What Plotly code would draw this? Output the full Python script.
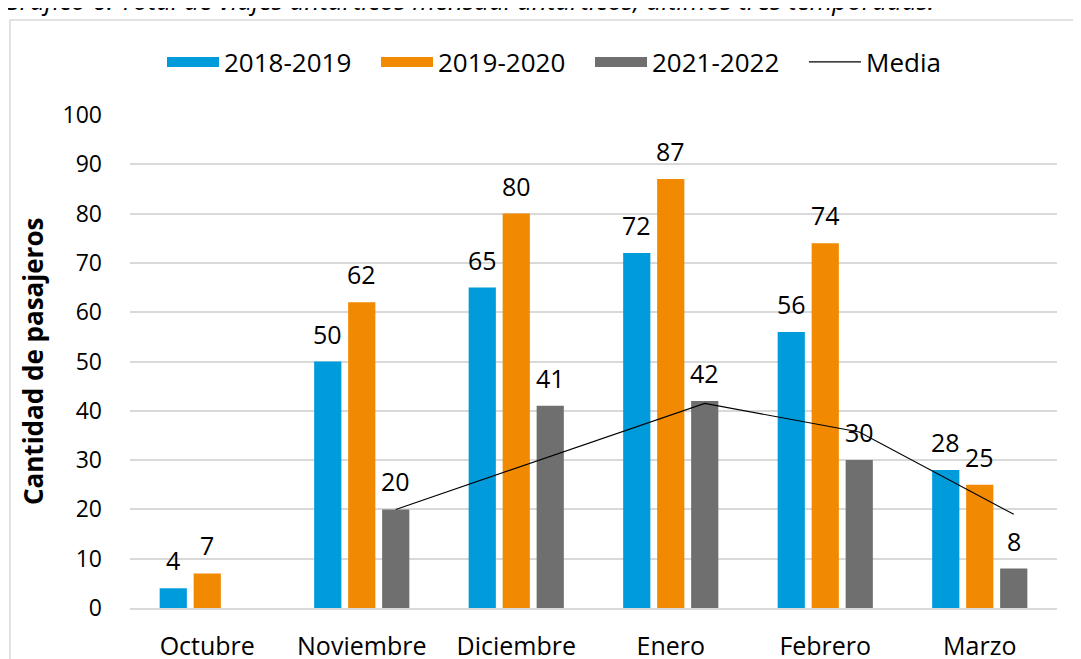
import plotly.graph_objects as go

meses = ["Octubre", "Noviembre", "Diciembre", "Enero", "Febrero", "Marzo"]
t_2018_2019 = [4, 50, 65, 72, 56, 28]
t_2019_2020 = [7, 62, 80, 87, 74, 25]
t_2021_2022 = [None, 20, 41, 42, 30, 8]
media = [None, 20, 30.8, 41.5, 35.7, 19]

series = [
    ("2018-2019", t_2018_2019, "#009bdb"),
    ("2019-2020", t_2019_2020, "#f18a00"),
    ("2021-2022", t_2021_2022, "#6f6f6f"),
]

FONT = "Open Sans"
bargap = 0.34
bargroupgap = 0.2

# page is drawn with an 8px body margin -> figure a bit smaller than window
OFF = 8
m_l, m_r, m_t, m_b = 122, 24, 107, 51
W, H = 1081 - OFF, 659 - OFF
plot_w = W - m_l - m_r
plot_h = H - m_t - m_b
x_left = OFF + m_l        # page px of plot left edge
y_bottom = OFF + m_t + plot_h  # page px of plot bottom edge
slot = (1 - bargap) / 3  # width of one bar slot, in category units
slot_px = slot * plot_w / len(meses)


def px(x):
    return (x - x_left) / plot_w


def py(y):
    return (y_bottom - y) / plot_h


fig = go.Figure()

for name, vals, color in series:
    fig.add_trace(go.Bar(
        x=meses, y=vals, name=name, showlegend=False,
        marker=dict(color=color, line=dict(width=0)),
    ))
    # legend swatch as a thick line (wide rectangle like the original)
    fig.add_trace(go.Scatter(
        x=[None], y=[None], name=name, mode="lines",
        line=dict(color=color, width=17),
    ))

# media line sits on the grey bars -> shifted overlay axis
fig.add_trace(go.Scatter(
    x=meses, y=media, name="Media", mode="lines",
    line=dict(color="#000000", width=1.1),
    xaxis="x2", connectgaps=False,
))

# data labels above the bars
annotations = []
for k, (name, vals, color) in enumerate(series):
    for mes, v in zip(meses, vals):
        if v is None:
            continue
        annotations.append(dict(
            x=mes, y=v, xref="x", yref="y", text=str(v), showarrow=False,
            xshift=(k - 1) * slot_px, yshift=28, yanchor="middle",
            font=dict(family=FONT, size=25, color="#000000"),
        ))

# axis title
annotations.append(dict(
    x=px(33), y=py(362), xref="paper", yref="paper",
    xanchor="center", yanchor="middle",
    text="<b>Cantidad de pasajeros</b>", textangle=-90, showarrow=False,
    font=dict(family=FONT, size=26, color="#000000"),
))

# chart caption (cut off at the top of the page)
annotations.append(dict(
    x=px(0), y=py(0), xref="paper", yref="paper",
    xanchor="left", yanchor="middle", showarrow=False,
    text="<i>Gráfico 6. Total de viajes antárticos mensual antárticos, últimos tres temporadas.</i>",
    font=dict(family=FONT, size=26, color="#000000"),
))

fig.update_layout(
    width=W, height=H,
    margin=dict(l=m_l, r=m_r, t=m_t, b=m_b, autoexpand=False),
    paper_bgcolor="white", plot_bgcolor="white",
    barmode="group", bargap=bargap, bargroupgap=bargroupgap,
    font=dict(family=FONT, size=21, color="#000000"),
    showlegend=True,
    legend=dict(
        orientation="h", x=px(162), xanchor="left",
        y=py(62), yanchor="middle",
        font=dict(family=FONT, size=26, color="#000000"),
        traceorder="normal", itemwidth=52, entrywidth=147,
    ),
    xaxis=dict(
        type="category", range=[-0.5, 5.5], showgrid=False, automargin=False,
        showline=True, linecolor="#d9d9d9", linewidth=2,
        ticks="", ticklabelstandoff=15,
        tickfont=dict(family=FONT, size=25, color="#000000"),
    ),
    xaxis2=dict(
        type="category", overlaying="x", range=[-0.5 - slot, 5.5 - slot],
        visible=False, categoryorder="array", categoryarray=meses,
    ),
    yaxis=dict(
        range=[0, 100], dtick=10, showgrid=True, gridcolor="#d9d9d9",
        gridwidth=1.5, zeroline=False, ticks="", ticklabelstandoff=27,
        automargin=False,
        tickfont=dict(family=FONT, size=23, color="#000000"),
    ),
    annotations=annotations,
    shapes=[dict(
        type="rect", xref="paper", yref="paper",
        x0=px(10), x1=1.2, y0=-0.3, y1=py(20),
        line=dict(color="#d9d9d9", width=1.5), fillcolor="rgba(0,0,0,0)",
        layer="below",
    )],
)

fig.write_html("out.html")
